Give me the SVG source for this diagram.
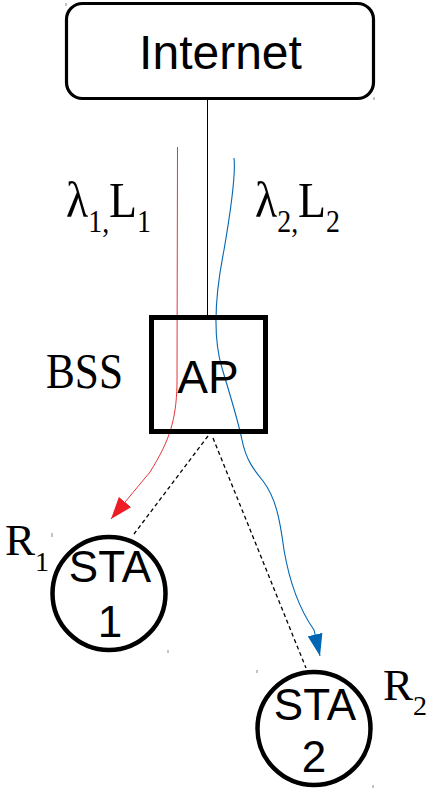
<svg xmlns="http://www.w3.org/2000/svg" width="430" height="789" viewBox="0 0 430 789">
<style>
.sans{font-family:"Liberation Sans",Arial,sans-serif;fill:#000}
.serif{font-family:"Liberation Serif","Times New Roman",serif;fill:#000}
.box{fill:#fff;stroke:#000}
.dash{fill:none;stroke:#000;stroke-width:1.3;stroke-dasharray:4 3}
.tick{stroke:#888;stroke-width:1}
</style>
<defs>
<marker id="ahRed" markerUnits="userSpaceOnUse" viewBox="0 0 22 16" markerWidth="22" markerHeight="16" refX="22" refY="8" orient="auto"><path d="M0,0 L22,8 L0,16 z" fill="#ee1c25"/></marker>
<marker id="ahBlue" markerUnits="userSpaceOnUse" viewBox="0 0 22 15" markerWidth="22" markerHeight="15" refX="22" refY="7.5" orient="auto"><path d="M0,0 L22,7.5 L0,15 z" fill="#0066b3"/></marker>
</defs>
<rect width="430" height="789" fill="#fff"/>
<g id="connectors">
<line x1="207.5" y1="99" x2="207.5" y2="317" stroke="#000" stroke-width="1"/>
<path d="M177.5,147 L177,385 C176,420 170,440 150,472 L111,519" fill="none" stroke="#e0202a" stroke-width="0.9" marker-end="url(#ahRed)"/>
<path d="M234,158 C236,175 230,215 224,250 C216,290 212,335 222,368 C230,395 238,420 242,440 C246,460 254,470 263,481 C276,498 280,520 284,550 C290,585 300,610 314,630 L320,656" fill="none" stroke="#0066b3" stroke-width="1.1" marker-end="url(#ahBlue)"/>
<line class="dash" x1="208" y1="436" x2="134" y2="534"/>
<line class="dash" x1="213" y1="438" x2="306" y2="668"/>
</g>
<g id="internet">
<rect class="box" x="66.5" y="3.5" width="307" height="95" rx="16" stroke-width="3.2"/>
<text class="sans" x="220.5" y="69" font-size="48" text-anchor="middle">Internet</text>
</g>
<g id="ap">
<rect x="151.5" y="317.5" width="114" height="114" fill="none" stroke="#000" stroke-width="5"/>
<text class="sans" x="208" y="393" font-size="46" text-anchor="middle">AP</text>
</g>
<g id="sta1">
<circle class="box" cx="109" cy="593.5" r="56.5" stroke-width="4.5" fill="none"/>
<text class="sans" x="110" y="582" font-size="44" text-anchor="middle">STA</text>
<text class="sans" x="110" y="637" font-size="44" text-anchor="middle">1</text>
</g>
<g id="sta2">
<circle class="box" cx="314" cy="728.5" r="56.5" stroke-width="4.5" fill="none"/>
<text class="sans" x="315" y="720" font-size="44" text-anchor="middle">STA</text>
<text class="sans" x="314" y="772" font-size="44" text-anchor="middle">2</text>
</g>
<g id="labels">
<text class="serif" x="66" y="217" font-size="51" textLength="85" lengthAdjust="spacingAndGlyphs">λ<tspan font-size="31" dy="15">1,</tspan><tspan dy="-15">L</tspan><tspan font-size="31" dy="15">1</tspan></text>
<text class="serif" x="255" y="217" font-size="51" textLength="85" lengthAdjust="spacingAndGlyphs">λ<tspan font-size="31" dy="15">2,</tspan><tspan dy="-15">L</tspan><tspan font-size="31" dy="15">2</tspan></text>
<text class="serif" x="46" y="388" font-size="51" textLength="77" lengthAdjust="spacingAndGlyphs">BSS</text>
<text class="serif" x="5" y="555" font-size="45">R<tspan font-size="28" dy="16">1</tspan></text>
<text class="serif" x="383" y="700" font-size="45">R<tspan font-size="28" dy="15">2</tspan></text>
</g>
<g id="ticks">
<line class="tick" x1="66" y1="3" x2="66" y2="6"/>
<line class="tick" x1="374" y1="97" x2="374" y2="100"/>
<line class="tick" x1="52" y1="533" x2="52" y2="537"/>
<line class="tick" x1="168" y1="650" x2="168" y2="653"/>
<line class="tick" x1="257" y1="670" x2="257" y2="673"/>
<line class="tick" x1="373" y1="785" x2="373" y2="788"/>
</g>
</svg>
